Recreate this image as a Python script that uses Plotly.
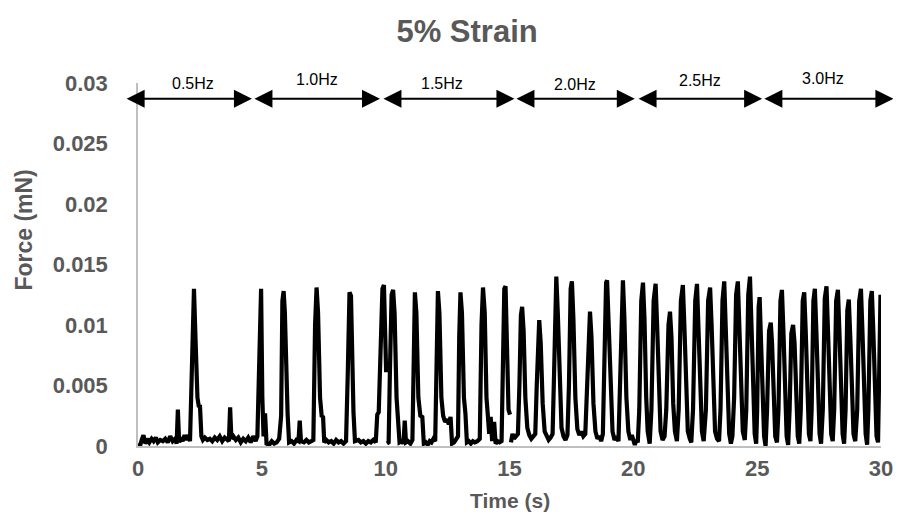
import plotly.graph_objects as go

# ---------------- data ----------------
# 0.5 Hz segment
t_05 = [0.00, 0.08, 0.15, 0.22, 0.30, 0.38, 0.46, 0.55, 0.63, 0.72, 0.80, 0.90, 1.00, 1.10, 1.20,
        1.30, 1.40, 1.50, 1.56, 1.61, 1.66, 1.72, 1.80, 1.88, 1.95, 2.03, 2.10, 2.16, 2.20, 2.26,
        2.32, 2.40, 2.46, 2.50, 2.56, 2.62, 2.70, 2.80, 2.90, 3.00, 3.10, 3.20, 3.30, 3.40, 3.50,
        3.60, 3.67, 3.72, 3.77, 3.85, 3.95, 4.05, 4.15, 4.25, 4.35, 4.45, 4.55, 4.65, 4.75, 4.82]
f_05 = [0.0002, 0.0000, 0.0005, 0.0009, 0.0002, 0.0006, 0.0003, 0.0006, 0.0004, 0.0007, 0.0003, 0.0005, 0.0004, 0.0006, 0.0003,
        0.0008, 0.0004, 0.0006, 0.0002, 0.0030, 0.0003, 0.0007, 0.0004, 0.0009, 0.0005, 0.0009, 0.0004, 0.0060, 0.0090, 0.0130,
        0.0090, 0.0040, 0.0032, 0.0034, 0.0008, 0.0005, 0.0007, 0.0005, 0.0006, 0.0004, 0.0007, 0.0005, 0.0008, 0.0004, 0.0007,
        0.0005, 0.0004, 0.0032, 0.0006, 0.0008, 0.0005, 0.0007, 0.0003, 0.0006, 0.0004, 0.0007, 0.0003, 0.0008, 0.0004, 0.0008]

# 1.0 Hz segment
t_10 = [4.88, 4.97, 5.02, 5.07, 5.13, 5.19, 5.30, 5.40, 5.50, 5.60, 5.70, 5.74, 5.78, 5.83, 5.88,
        5.93, 6.00, 6.04, 6.10, 6.20, 6.30, 6.40, 6.48, 6.53, 6.58, 6.70, 6.80, 6.90, 7.00, 7.08,
        7.15, 7.21, 7.27, 7.35, 7.42, 7.47, 7.52, 7.60, 7.70, 7.80, 7.90, 8.00, 8.10, 8.20, 8.30,
        8.40, 8.47, 8.54, 8.60, 8.66, 8.70, 8.76, 8.90, 9.00, 9.10, 9.20, 9.30, 9.40, 9.50, 9.60,
        9.66, 9.72, 9.80, 9.87, 9.93, 9.98, 10.02]
f_10 = [0.0060, 0.0130, 0.0040, 0.0008, 0.0027, 0.0002, 0.0001, 0.0004, 0.0002, 0.0003, 0.0006, 0.0022, 0.0025, 0.0120, 0.0128,
        0.0110, 0.0040, 0.0027, 0.0003, 0.0004, 0.0002, 0.0005, 0.0004, 0.0021, 0.0004, 0.0003, 0.0005, 0.0003, 0.0004, 0.0005,
        0.0100, 0.0131, 0.0110, 0.0040, 0.0024, 0.0025, 0.0003, 0.0005, 0.0003, 0.0004, 0.0002, 0.0005, 0.0003, 0.0004, 0.0002,
        0.0004, 0.0060, 0.0127, 0.0124, 0.0060, 0.0028, 0.0004, 0.0005, 0.0003, 0.0004, 0.0002, 0.0004, 0.0003, 0.0005, 0.0003,
        0.0026, 0.0028, 0.0080, 0.0130, 0.0133, 0.0062, 0.0061]

# 1.5 Hz segment
t_15 = [10.05, 10.12, 10.17, 10.24, 10.30, 10.36, 10.44, 10.50, 10.56, 10.65, 10.72, 10.77, 10.82, 10.90, 11.00,
        11.08, 11.13, 11.18, 11.24, 11.32, 11.40, 11.48, 11.54, 11.62, 11.70, 11.78, 11.85, 11.93, 12.00, 12.05,
        12.11, 12.17, 12.25, 12.32, 12.40, 12.48, 12.55, 12.62, 12.68, 12.76, 12.84, 12.92, 12.97, 13.02, 13.08,
        13.16, 13.22, 13.28, 13.36, 13.44, 13.52, 13.60, 13.70, 13.80, 13.87, 13.93, 14.00, 14.07, 14.13, 14.18,
        14.24, 14.30, 14.38, 14.44, 14.52, 14.60, 14.68, 14.72, 14.79, 14.84, 14.90, 14.96, 15.02]
f_15 = [0.0002, 0.0003, 0.0060, 0.0125, 0.0129, 0.0110, 0.0040, 0.0025, 0.0003, 0.0004, 0.0002, 0.0021, 0.0003, 0.0004, 0.0002,
        0.0005, 0.0080, 0.0127, 0.0110, 0.0040, 0.0025, 0.0024, 0.0002, 0.0003, 0.0001, 0.0004, 0.0003, 0.0006, 0.0004, 0.0080,
        0.0128, 0.0110, 0.0040, 0.0025, 0.0020, 0.0022, 0.0018, 0.0024, 0.0002, 0.0003, 0.0005, 0.0008, 0.0090, 0.0127, 0.0110,
        0.0040, 0.0027, 0.0003, 0.0004, 0.0002, 0.0004, 0.0003, 0.0004, 0.0006, 0.0100, 0.0131, 0.0110, 0.0040, 0.0024, 0.0010,
        0.0024, 0.0004, 0.0020, 0.0002, 0.0004, 0.0003, 0.0004, 0.0060, 0.0130, 0.0132, 0.0070, 0.0030, 0.0026]

# 2.0 Hz segment
t_20 = [15.06, 15.12, 15.18, 15.26, 15.34, 15.40, 15.46, 15.51, 15.57, 15.64, 15.72, 15.80, 15.88, 15.96, 16.04,
        16.10, 16.16, 16.20, 16.26, 16.34, 16.42, 16.50, 16.58, 16.66, 16.74, 16.80, 16.86, 16.89, 16.95, 17.03,
        17.10, 17.18, 17.26, 17.34, 17.40, 17.47, 17.52, 17.58, 17.66, 17.74, 17.82, 17.90, 17.98, 18.06, 18.12,
        18.20, 18.25, 18.31, 18.39, 18.47, 18.55, 18.63, 18.70, 18.77, 18.83, 18.90, 18.94, 19.00, 19.08, 19.16,
        19.24, 19.32, 19.40, 19.46, 19.54, 19.58, 19.64, 19.72, 19.80, 19.88, 19.94, 20.00, 20.06, 20.12, 20.18]
f_20 = [0.0003, 0.0010, 0.0006, 0.0008, 0.0010, 0.0050, 0.0108, 0.0115, 0.0095, 0.0040, 0.0015, 0.0009, 0.0006, 0.0008, 0.0010,
        0.0050, 0.0100, 0.0104, 0.0085, 0.0035, 0.0012, 0.0008, 0.0005, 0.0007, 0.0010, 0.0060, 0.0135, 0.0140, 0.0110, 0.0040,
        0.0015, 0.0008, 0.0005, 0.0009, 0.0050, 0.0130, 0.0136, 0.0105, 0.0040, 0.0014, 0.0009, 0.0012, 0.0008, 0.0010, 0.0050,
        0.0105, 0.0111, 0.0090, 0.0035, 0.0012, 0.0006, 0.0008, 0.0004, 0.0010, 0.0070, 0.0135, 0.0137, 0.0100, 0.0040, 0.0012,
        0.0005, 0.0008, 0.0004, 0.0060, 0.0134, 0.0137, 0.0105, 0.0040, 0.0012, 0.0005, 0.0009, 0.0003, 0.0001, 0.0005, 0.0003]

# 2.5 Hz segment
t_25 = [20.24, 20.32, 20.39, 20.45, 20.52, 20.58, 20.66, 20.73, 20.82, 20.90, 20.96, 21.03, 21.10, 21.18, 21.26,
        21.33, 21.42, 21.48, 21.54, 21.61, 21.68, 21.76, 21.83, 21.92, 22.00, 22.06, 22.13, 22.20, 22.28, 22.34,
        22.41, 22.50, 22.57, 22.63, 22.70, 22.77, 22.84, 22.93, 23.02, 23.10, 23.16, 23.23, 23.30, 23.38, 23.46,
        23.52, 23.60, 23.67, 23.73, 23.80, 23.87, 23.94, 24.00, 24.07, 24.15, 24.22, 24.28, 24.35, 24.42, 24.50,
        24.56, 24.64, 24.71, 24.77, 24.84, 24.90, 24.96]
f_25 = [0.0030, 0.0120, 0.0135, 0.0105, 0.0040, 0.0012, 0.0002, 0.0030, 0.0120, 0.0134, 0.0100, 0.0040, 0.0012, 0.0005, 0.0008,
        0.0030, 0.0100, 0.0111, 0.0090, 0.0035, 0.0012, 0.0004, 0.0030, 0.0120, 0.0133, 0.0100, 0.0040, 0.0012, 0.0006, 0.0003,
        0.0030, 0.0120, 0.0134, 0.0100, 0.0040, 0.0012, 0.0004, 0.0030, 0.0120, 0.0131, 0.0100, 0.0040, 0.0012, 0.0006, 0.0004,
        0.0030, 0.0120, 0.0136, 0.0100, 0.0040, 0.0010, 0.0002, 0.0008, 0.0040, 0.0125, 0.0136, 0.0100, 0.0040, 0.0012, 0.0005,
        0.0030, 0.0125, 0.0140, 0.0100, 0.0040, 0.0010, 0.0002]

# 3.0 Hz segment
t_30 = [25.00, 25.06, 25.10, 25.15, 25.22, 25.28, 25.34, 25.40, 25.48, 25.55, 25.60, 25.67, 25.73, 25.80, 25.86,
        25.94, 26.00, 26.06, 26.13, 26.19, 26.25, 26.31, 26.38, 26.45, 26.51, 26.58, 26.64, 26.70, 26.76, 26.84,
        26.90, 26.96, 27.03, 27.09, 27.15, 27.20, 27.27, 27.33, 27.39, 27.46, 27.52, 27.58, 27.65, 27.73, 27.80,
        27.86, 27.93, 27.99, 28.05, 28.11, 28.19, 28.26, 28.32, 28.39, 28.45, 28.51, 28.57, 28.64, 28.70, 28.76,
        28.83, 28.89, 28.96, 29.04, 29.12, 29.19, 29.25, 29.32, 29.38, 29.44, 29.49, 29.57, 29.63, 29.69, 29.76,
        29.82, 29.88, 29.93, 29.98, 30.02]
f_30 = [0.0030, 0.0115, 0.0123, 0.0090, 0.0035, 0.0008, 0.0000, 0.0030, 0.0095, 0.0102, 0.0085, 0.0035, 0.0008, 0.0003, 0.0030,
        0.0120, 0.0129, 0.0095, 0.0035, 0.0008, 0.0001, 0.0030, 0.0093, 0.0100, 0.0085, 0.0035, 0.0008, 0.0002, 0.0030, 0.0120,
        0.0127, 0.0095, 0.0035, 0.0010, 0.0004, 0.0030, 0.0120, 0.0130, 0.0095, 0.0035, 0.0010, 0.0002, 0.0030, 0.0122, 0.0132,
        0.0095, 0.0035, 0.0010, 0.0004, 0.0030, 0.0120, 0.0129, 0.0095, 0.0035, 0.0010, 0.0002, 0.0030, 0.0112, 0.0121, 0.0090,
        0.0035, 0.0010, 0.0004, 0.0030, 0.0120, 0.0130, 0.0095, 0.0035, 0.0010, 0.0001, 0.0030, 0.0120, 0.0128, 0.0095, 0.0035,
        0.0008, 0.0003, 0.0050, 0.0125, 0.0112]

# frequency bands (time intervals of the arrows) and labels
freq_labels = ["0.5Hz", "1.0Hz", "1.5Hz", "2.0Hz", "2.5Hz", "3.0Hz"]
band_start = [-0.52, 4.64, 9.85, 15.22, 20.15, 25.23]
band_end = [4.60, 9.77, 15.20, 20.06, 25.20, 30.50]
label_x = [2.22, 7.23, 12.27, 17.64, 22.69, 27.65]

# ---------------- figure ----------------
# segments joined; gaps where the recording is broken (after 10 s and 15 s)
time = t_05 + t_10 + [None] + t_15 + [None] + t_20 + t_25 + t_30
force = f_05 + f_10 + [None] + f_15 + [None] + f_20 + f_25 + f_30

GRAY = "#595959"
FONT = "Arial, Liberation Sans, sans-serif"
fig = go.Figure()
fig.add_trace(go.Scatter(x=time, y=force, mode="lines",
                         line=dict(color="black", width=4.2),
                         connectgaps=False, showlegend=False, hoverinfo="skip"))

arrow_y = 0.0287
label_shift = [0, 4, 0, -1, 3, 5]  # small vertical offsets of the labels (px)
for i, lab in enumerate(freq_labels):
    fig.add_annotation(x=band_end[i], y=arrow_y, ax=band_start[i], ay=arrow_y,
                       xref="x", yref="y", axref="x", ayref="y",
                       text="", showarrow=True, arrowhead=2, startarrowhead=2,
                       arrowside="end+start", arrowsize=1.8, startarrowsize=1.8,
                       arrowwidth=2, arrowcolor="black", standoff=0, startstandoff=0)
    fig.add_annotation(x=label_x[i], y=1.0,
                       xref="x", yref="paper", yanchor="middle", yshift=label_shift[i],
                       text=lab, showarrow=False,
                       font=dict(family=FONT, size=16, color="black"))

# y-axis title (placed slightly above the plot centre, as in the original)
fig.add_annotation(x=0, y=0.0178, xref="paper", yref="y", xanchor="center", yanchor="middle",
                   xshift=-114, textangle=-90, showarrow=False,
                   text="<b>Force (mN)</b>", font=dict(family=FONT, size=23, color=GRAY))
# x-axis title
fig.add_annotation(x=0.5, y=0, xref="paper", yref="paper", xanchor="center", yanchor="middle",
                   yshift=-54, showarrow=False,
                   text="<b>Time (s)</b>", font=dict(family=FONT, size=21, color=GRAY))

fig.update_layout(
    width=901, height=528,
    margin=dict(l=130, r=28, t=75, b=90),
    plot_bgcolor="white", paper_bgcolor="white",
    font=dict(family=FONT, color=GRAY),
    title=dict(text="<b>5% Strain</b>", x=0.5095, xanchor="center", y=0.956, yanchor="middle",
               font=dict(size=31, color=GRAY)),
)
fig.update_xaxes(range=[0, 30], tickvals=[0, 5, 10, 15, 20, 25, 30],
                 ticktext=["<b>0</b>", "<b>5</b>", "<b>10</b>", "<b>15</b>", "<b>20</b>", "<b>25</b>", "<b>30</b>"],
                 showgrid=False, zeroline=False, showline=True, linecolor="#bfbfbf", linewidth=1.5,
                 ticks="", tickfont=dict(size=22, color=GRAY), ticklabelstandoff=2, automargin=False)
fig.update_yaxes(range=[0, 0.03], tickvals=[0, 0.005, 0.01, 0.015, 0.02, 0.025, 0.03],
                 ticktext=["<b>0</b>", "<b>0.005</b>", "<b>0.01</b>", "<b>0.015</b>", "<b>0.02</b>", "<b>0.025</b>", "<b>0.03</b>"],
                 showgrid=False, zeroline=False, showline=True, linecolor="#bfbfbf", linewidth=1.5,
                 ticks="", tickfont=dict(size=22, color=GRAY), ticklabelstandoff=24, automargin=False)

fig.write_html("out.html")
